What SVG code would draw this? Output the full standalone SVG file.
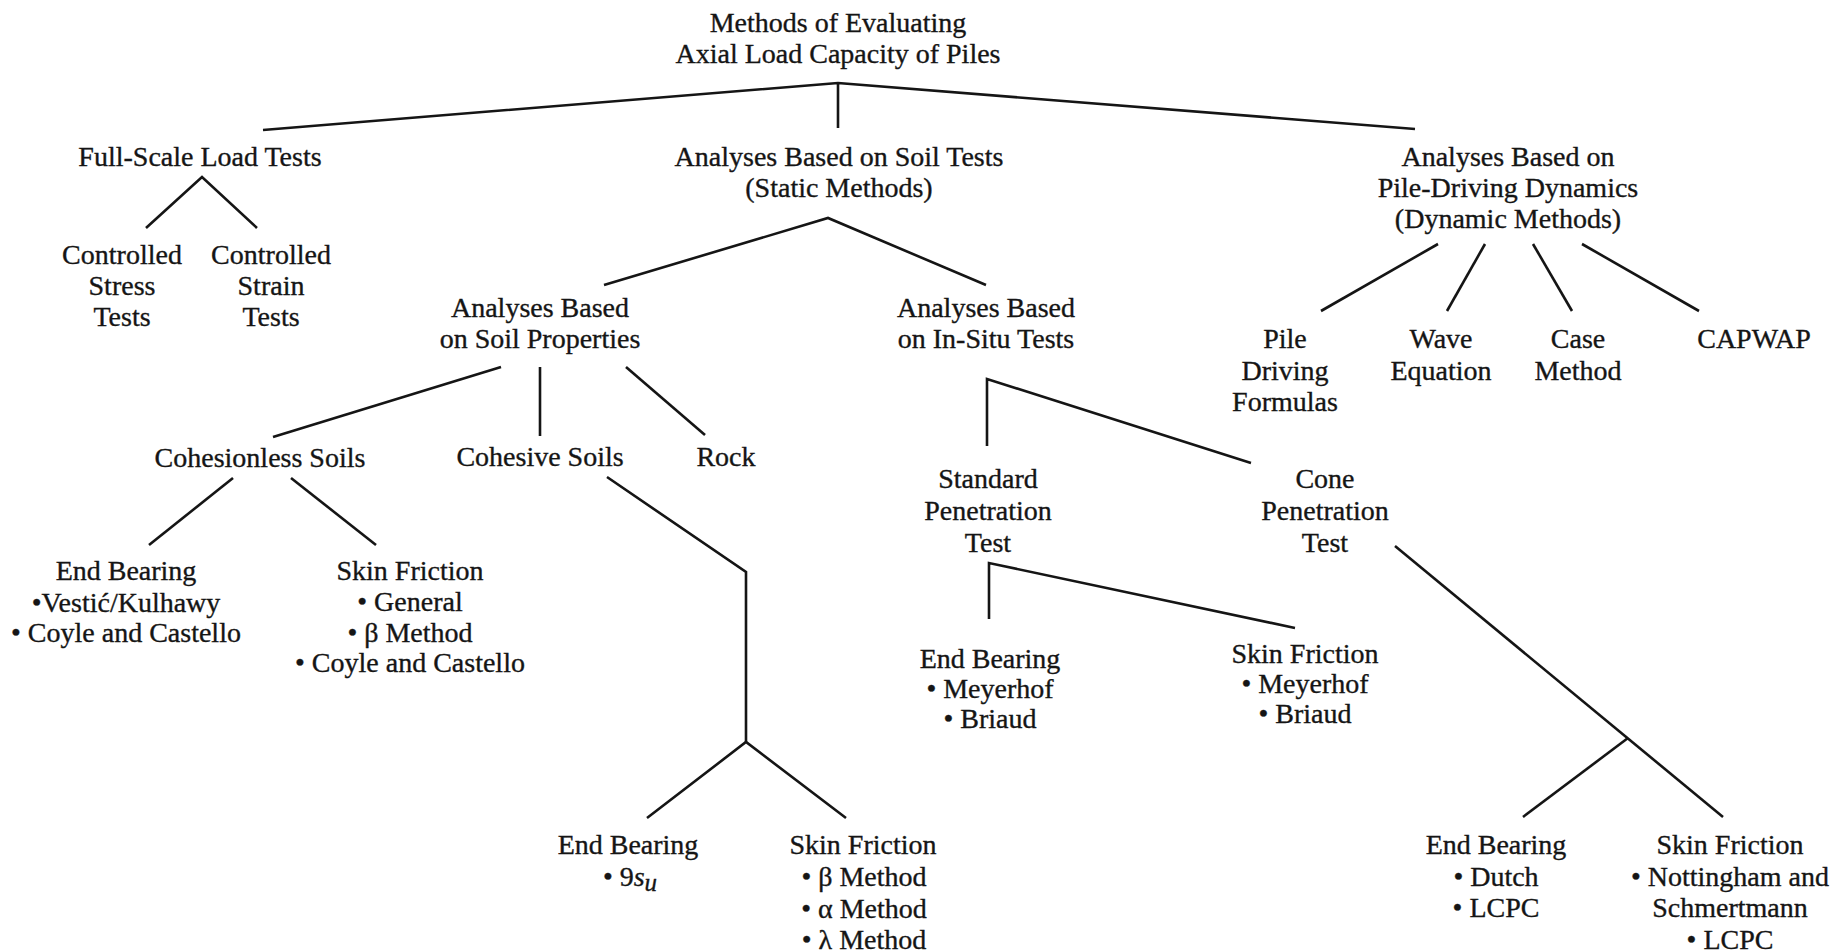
<svg xmlns="http://www.w3.org/2000/svg" width="1845" height="952" viewBox="0 0 1845 952">
  <style>
    .bg { fill: #ffffff; }
    text { font-family: "Liberation Serif", "Times New Roman", serif; font-size: 28px; fill: #151515; stroke: #151515; stroke-width: 0.35; text-anchor: middle; }
    .it { font-style: italic; }
    .edge { fill: none; stroke: #151515; stroke-width: 2.6; stroke-linejoin: miter; stroke-linecap: butt; }
  </style>
  <rect class="bg" x="0" y="0" width="1845" height="952"/>

  <!-- Tree branches -->
  <g id="connectors">
    <polyline class="edge" points="263,130 838,83 1415,129"/>
    <line class="edge" x1="838" y1="83" x2="838" y2="128"/>
    <polyline class="edge" points="146,228 202,177 257,228"/>
    <polyline class="edge" points="604,285 828,218 986,285"/>
    <line class="edge" x1="1438" y1="244" x2="1321" y2="311"/>
    <line class="edge" x1="1485" y1="244" x2="1447" y2="311"/>
    <line class="edge" x1="1533" y1="244" x2="1572" y2="311"/>
    <line class="edge" x1="1582" y1="244" x2="1699" y2="311"/>
    <line class="edge" x1="501" y1="367" x2="273" y2="437"/>
    <line class="edge" x1="540" y1="367" x2="540" y2="436"/>
    <line class="edge" x1="626" y1="367" x2="705" y2="435"/>
    <polyline class="edge" points="987,446 987,379 1251,463"/>
    <line class="edge" x1="233" y1="478" x2="149" y2="545"/>
    <line class="edge" x1="291" y1="478" x2="376" y2="545"/>
    <polyline class="edge" points="607,477 746,572 746,742"/>
    <polyline class="edge" points="647,818 746,742 846,818"/>
    <polyline class="edge" points="989,619 989,563 1295,628"/>
    <line class="edge" x1="1395" y1="546" x2="1723" y2="817"/>
    <line class="edge" x1="1628" y1="738" x2="1523" y2="817"/>
  </g>

  <g id="root">
    <text x="838" y="32">Methods of Evaluating</text>
    <text x="838" y="63">Axial Load Capacity of Piles</text>
  </g>

  <g id="full-scale">
    <text x="200" y="166">Full-Scale Load Tests</text>
  </g>
  <g id="controlled-stress">
    <text x="122" y="264">Controlled</text>
    <text x="122" y="295">Stress</text>
    <text x="122" y="326">Tests</text>
  </g>
  <g id="controlled-strain">
    <text x="271" y="264">Controlled</text>
    <text x="271" y="295">Strain</text>
    <text x="271" y="326">Tests</text>
  </g>

  <g id="static">
    <text x="839" y="166">Analyses Based on Soil Tests</text>
    <text x="839" y="197">(Static Methods)</text>
  </g>

  <g id="dynamic">
    <text x="1508" y="166">Analyses Based on</text>
    <text x="1508" y="197">Pile-Driving Dynamics</text>
    <text x="1508" y="228">(Dynamic Methods)</text>
  </g>
  <g id="pile-formulas">
    <text x="1285" y="348">Pile</text>
    <text x="1285" y="380">Driving</text>
    <text x="1285" y="411">Formulas</text>
  </g>
  <g id="wave-equation">
    <text x="1441" y="348">Wave</text>
    <text x="1441" y="380">Equation</text>
  </g>
  <g id="case-method">
    <text x="1578" y="348">Case</text>
    <text x="1578" y="380">Method</text>
  </g>
  <g id="capwap">
    <text x="1754" y="348">CAPWAP</text>
  </g>

  <g id="soil-properties">
    <text x="540" y="317">Analyses Based</text>
    <text x="540" y="348">on Soil Properties</text>
  </g>
  <g id="in-situ">
    <text x="986" y="317">Analyses Based</text>
    <text x="986" y="348">on In-Situ Tests</text>
  </g>

  <g id="cohesionless">
    <text x="260" y="467">Cohesionless Soils</text>
  </g>
  <g id="cohesive">
    <text x="540" y="466">Cohesive Soils</text>
  </g>
  <g id="rock">
    <text x="726" y="466">Rock</text>
  </g>

  <g id="spt">
    <text x="988" y="488">Standard</text>
    <text x="988" y="520">Penetration</text>
    <text x="988" y="552">Test</text>
  </g>
  <g id="cpt">
    <text x="1325" y="488">Cone</text>
    <text x="1325" y="520">Penetration</text>
    <text x="1325" y="552">Test</text>
  </g>

  <g id="cohesionless-end-bearing">
    <text x="126" y="580">End Bearing</text>
    <text x="126" y="612">•Vestić/Kulhawy</text>
    <text x="126" y="642">• Coyle and Castello</text>
  </g>
  <g id="cohesionless-skin-friction">
    <text x="410" y="580">Skin Friction</text>
    <text x="410" y="611">• General</text>
    <text x="410" y="642">• β Method</text>
    <text x="410" y="672">• Coyle and Castello</text>
  </g>

  <g id="spt-end-bearing">
    <text x="990" y="668">End Bearing</text>
    <text x="990" y="698">• Meyerhof</text>
    <text x="990" y="728">• Briaud</text>
  </g>
  <g id="spt-skin-friction">
    <text x="1305" y="663">Skin Friction</text>
    <text x="1305" y="693">• Meyerhof</text>
    <text x="1305" y="723">• Briaud</text>
  </g>

  <g id="cohesive-end-bearing">
    <text x="628" y="854">End Bearing</text>
    <text x="630" y="886">• 9<tspan class="it">s</tspan><tspan class="it" dy="5" font-size="25">u</tspan></text>
  </g>
  <g id="cohesive-skin-friction">
    <text x="863" y="854">Skin Friction</text>
    <text x="864" y="886">• β Method</text>
    <text x="864" y="918">• α Method</text>
    <text x="864" y="949">• λ Method</text>
  </g>

  <g id="cpt-end-bearing">
    <text x="1496" y="854">End Bearing</text>
    <text x="1496" y="886">• Dutch</text>
    <text x="1496" y="917">• LCPC</text>
  </g>
  <g id="cpt-skin-friction">
    <text x="1730" y="854">Skin Friction</text>
    <text x="1730" y="886">• Nottingham and</text>
    <text x="1730" y="917">Schmertmann</text>
    <text x="1730" y="949">• LCPC</text>
  </g>
</svg>
